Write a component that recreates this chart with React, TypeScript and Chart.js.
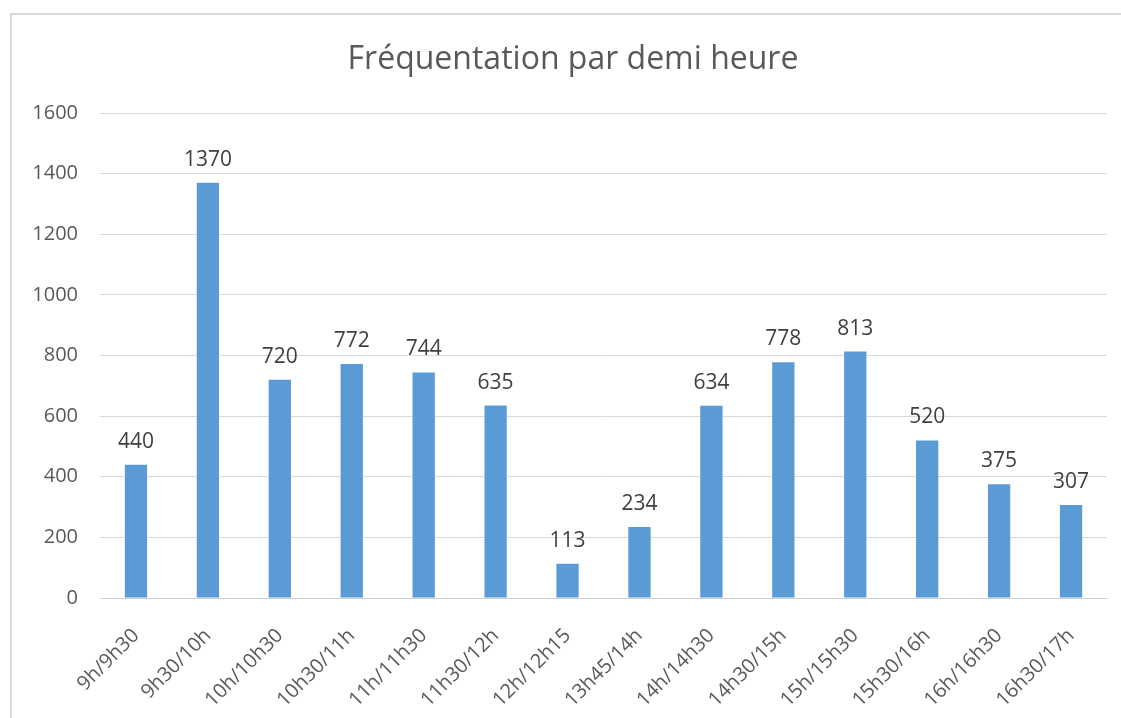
import React, { useEffect, useRef } from "react";
import { Chart, registerables } from "chart.js";

Chart.register(...registerables);

const categories = [
  "9h/9h30", "9h30/10h", "10h/10h30", "10h30/11h", "11h/11h30", "11h30/12h",
  "12h/12h15", "13h45/14h", "14h/14h30", "14h30/15h", "15h/15h30", "15h30/16h",
  "16h/16h30", "16h30/17h",
];
const visitors = [440, 1370, 720, 772, 744, 635, 113, 234, 634, 778, 813, 520, 375, 307];
const titleText = "Fréquentation par demi heure";

const FONT = "'Open Sans', sans-serif";

const valueLabels = {
  id: "valueLabels",
  afterDatasetsDraw(chart: any) {
    const ctx = chart.ctx;
    const meta = chart.getDatasetMeta(0);
    ctx.save();
    ctx.font = `21px ${FONT}`;
    ctx.fillStyle = "#404040";
    ctx.textAlign = "center";
    ctx.textBaseline = "alphabetic";
    meta.data.forEach((bar: any, i: number) => {
      ctx.fillText(String(chart.data.datasets[0].data[i]), bar.x, bar.y - 17);
    });
    ctx.restore();
  },
};

const titlePlugin = {
  id: "centeredTitle",
  afterDraw(chart: any) {
    const ctx = chart.ctx;
    ctx.save();
    ctx.font = `32px ${FONT}`;
    ctx.fillStyle = "#595959";
    ctx.textAlign = "center";
    ctx.textBaseline = "middle";
    ctx.fillText(titleText, 573, 60);
    ctx.restore();
  },
};

export default function App() {
  const ref = useRef<HTMLCanvasElement>(null);
  useEffect(() => {
    if (!ref.current) return;
    const chart = new Chart(ref.current, {
      type: "bar",
      data: {
        labels: categories,
        datasets: [
          {
            data: visitors,
            backgroundColor: "#5B9BD5",
            barPercentage: 0.62,
            categoryPercentage: 0.5,
          },
        ],
      },
      options: {
        animation: false,
        responsive: false,
        maintainAspectRatio: false,
        layout: { padding: { top: 113, left: 20, right: 14, bottom: 0 } },
        plugins: {
          legend: { display: false },
          tooltip: { enabled: false },
          title: { display: false },
        },
        scales: {
          x: {
            grid: { display: false, drawTicks: false },
            border: { color: "#d0d0d0", width: 1 },
            ticks: {
              color: "#595959",
              font: { family: FONT, size: 20 },
              maxRotation: 45,
              minRotation: 45,
              padding: 26,
              autoSkip: false,
            },
            afterFit: (s: any) => {
              s.height = 120;
            },
          },
          y: {
            min: 0,
            max: 1600,
            grid: { color: "#d9d9d9", drawTicks: false },
            border: { display: false },
            ticks: {
              stepSize: 200,
              color: "#595959",
              font: { family: FONT, size: 20 },
              padding: 22,
              callback: (v: any) => String(v),
            },
            afterFit: (s: any) => {
              s.width = 80;
            },
          },
        },
      },
      plugins: [valueLabels, titlePlugin],
    });
    return () => chart.destroy();
  }, []);

  return (
    <div style={{ position: "fixed", left: 0, top: 0, width: 1121, height: 718, background: "#fff" }}>
      <div
        style={{
          position: "absolute",
          left: 10,
          top: 13,
          width: 1200,
          height: 800,
          border: "2px solid #d9d9d9",
          boxSizing: "border-box",
        }}
      />
      <canvas ref={ref} width={1121} height={718} style={{ position: "absolute", left: 0, top: 0 }} />
    </div>
  );
}
